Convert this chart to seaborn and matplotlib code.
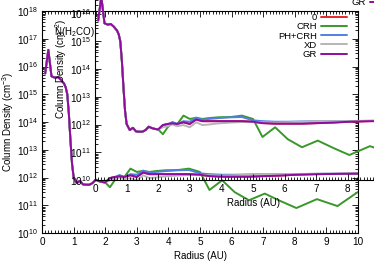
import numpy as np
import pandas as pd
import matplotlib
matplotlib.use("Agg")
import matplotlib.pyplot as plt
import seaborn as sns
from matplotlib.ticker import MultipleLocator, LogLocator, NullFormatter

# ------------------------------------------------------------------
#  Data (log10 of column density)
# ------------------------------------------------------------------
radius = [0.1, 0.2, 0.3, 0.4, 0.5, 0.6, 0.7, 0.75, 0.8, 0.85,
          0.9, 0.95, 1.0, 1.1, 1.2, 1.3, 1.4, 1.5, 1.6, 1.7,
          1.8, 1.9, 2.0, 2.15, 2.3, 2.45, 2.6, 2.8, 3.0, 3.2,
          3.4, 3.6, 3.9, 4.3, 4.65, 5.0, 5.3, 5.7, 6.1, 6.55,
          7.05, 7.55, 8.05, 8.7, 9.35, 10.0]

# inner disc (r <= 2 AU) is the same for every model
log_inner = [15.75, 16.6, 15.65, 15.6, 15.62, 15.52, 15.38, 15.25, 15.0, 14.3,
             13.35, 12.5, 12.02, 11.8, 11.88, 11.75, 11.74, 11.74, 11.8, 11.92,
             11.87, 11.84, 11.82]

log_outer_0 = [11.98, 12.02, 12.04, 12.02, 12.08, 12.02, 12.18, 12.12, 12.12, 12.12,
               12.12, 12.12, 12.1, 12.05, 12.03, 12.03, 12.03, 12.05, 12.07, 12.1,
               12.12, 12.13, 12.14]
log_outer_crh = [11.65, 11.9, 12.07, 12.01, 12.32, 12.2, 12.24, 12.2, 12.23, 12.26,
                 12.27, 12.32, 12.2, 11.55, 11.9, 11.47, 11.18, 11.42, 11.15, 10.9,
                 11.22, 10.97, 11.48]
log_outer_phcrh = [11.98, 12.0, 12.09, 12.02, 12.12, 12.1, 12.25, 12.17, 12.2, 12.23,
                   12.26, 12.27, 12.15, 12.12, 12.1, 12.1, 12.11, 12.12, 12.12, 12.12,
                   12.13, 12.14, 12.14]
log_outer_xd = [11.9, 11.94, 12.0, 11.94, 11.98, 11.9, 12.08, 11.98, 12.0, 12.04,
                12.07, 12.09, 12.09, 12.08, 12.07, 12.08, 12.1, 12.12, 12.12, 12.12,
                12.14, 12.14, 12.15]
log_outer_gr = [11.98, 12.02, 12.04, 12.02, 12.08, 12.02, 12.18, 12.12, 12.12, 12.12,
                12.12, 12.12, 12.1, 12.05, 12.03, 12.03, 12.03, 12.05, 12.07, 12.1,
                12.12, 12.13, 12.14]

models = ["0", "CRH", "PH+CRH", "XD", "GR"]
colors = ["#e8262a", "#3a982a", "#4f80e4", "#b6b6b6", "#900c9e"]
outer = [log_outer_0, log_outer_crh, log_outer_phcrh, log_outer_xd, log_outer_gr]

rows = []
for name, tail in zip(models, outer):
    for r, v in zip(radius, log_inner + tail):
        rows.append((name, r, 10.0 ** v))
df = pd.DataFrame(rows, columns=["model", "radius", "N"])

# ------------------------------------------------------------------
#  Style
# ------------------------------------------------------------------
sns.set_theme(style="ticks", rc={
    "axes.edgecolor": "black", "axes.linewidth": 0.8,
    "text.color": "black", "axes.labelcolor": "black",
    "xtick.color": "black", "ytick.color": "black",
})
plt.rcParams["font.family"] = ["Liberation Sans", "DejaVu Sans"]
plt.rcParams["mathtext.fontset"] = "custom"
plt.rcParams["mathtext.rm"] = "Liberation Sans"
plt.rcParams["mathtext.it"] = "Liberation Sans:italic"

W, H = 374, 262
fig = plt.figure(figsize=(W / 100, H / 100), dpi=100)


def px_axes(left, top, right, bottom):
    return fig.add_axes([left / W, 1 - bottom / H, (right - left) / W, (bottom - top) / H])


def draw_panel(ax, ylabel, anchor):
    ax.set_yscale("log")
    sns.lineplot(data=df, x="radius", y="N", hue="model", hue_order=models,
                 palette=colors, estimator=None, sort=False, lw=1.4, ax=ax)
    leg = ax.get_legend()
    handles, labels = leg.legend_handles, [t.get_text() for t in leg.texts]
    leg.remove()
    for h in handles:
        h.set_linewidth(1.4)
    ax.legend(handles, labels, loc="upper right", bbox_to_anchor=anchor,
              frameon=False, markerfirst=False, fontsize=6.8, handlelength=2.7,
              handletextpad=0.45, labelspacing=0.02, borderpad=0, borderaxespad=0)
    ax.set_xlim(0, 10)
    ax.set_ylim(1e10, 1e18)
    ax.xaxis.set_major_locator(MultipleLocator(1))
    ax.xaxis.set_minor_locator(MultipleLocator(0.1))
    ax.yaxis.set_major_locator(LogLocator(base=10, numticks=20))
    ax.yaxis.set_minor_locator(LogLocator(base=10, subs=range(2, 10), numticks=20))
    ax.yaxis.set_minor_formatter(NullFormatter())
    ax.tick_params(which="both", direction="in", top=True, right=True, width=0.6)
    ax.tick_params(which="major", length=4)
    ax.tick_params(which="minor", length=2)
    ax.tick_params(axis="x", labelsize=7.2, pad=3)
    ax.tick_params(axis="y", labelsize=7.2, pad=3)
    ax.set_xlabel("Radius (AU)", fontsize=7, labelpad=2.5)
    ax.set_ylabel(ylabel, fontsize=7, labelpad=0.5)
    ax.patch.set_alpha(0)


ax_main = px_axes(42, 11, 358, 233)
draw_panel(ax_main, "Column Density (cm$^{-3}$)", (0.965, 0.99))

# second copy of the plot, shifted up and to the right
ax_over = px_axes(95, -42, 411, 180)
draw_panel(ax_over, "Column Density (cm$^{-2}$)", (0.950, 0.985))
ax_over.text(0.0, 0.667, "N(H$_2$CO)", transform=ax_over.transAxes,
             ha="right", va="center", fontsize=7)

fig.savefig("out.png", dpi=100)
